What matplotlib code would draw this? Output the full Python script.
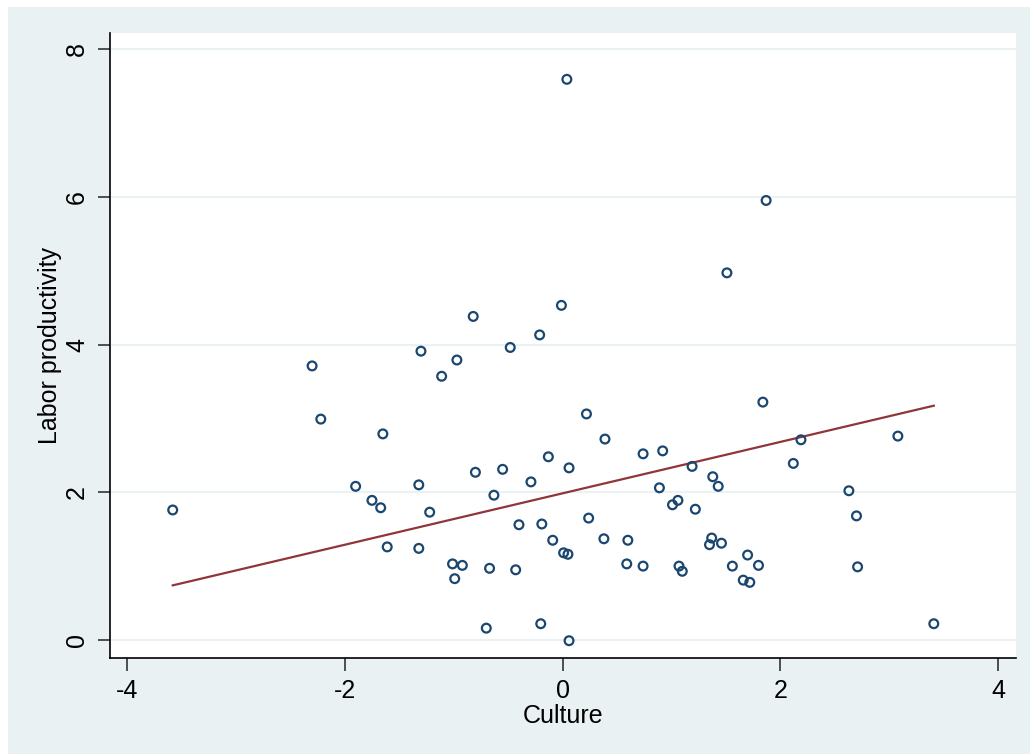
import numpy as np
import matplotlib
matplotlib.use("Agg")
import matplotlib.pyplot as plt
from matplotlib.patches import Rectangle

culture = [-3.58, -2.30, -2.22, -1.65, -1.90, -1.75, -1.67, -1.61, -1.30, -1.32,
           -1.22, -1.32, -1.11, -0.97, -0.82, -0.80, -1.01, -0.92, -0.99, -0.70,
           -0.67, -0.55, -0.63, -0.48, -0.43, -0.40, -0.29, -0.21, -0.19, -0.20,
           -0.13, -0.09, -0.01, 0.04, 0.01, 0.05, 0.06, 0.06, 0.22, 0.24,
           0.39, 0.38, 0.59, 0.60, 0.74, 0.74, 0.92, 0.89, 1.01, 1.06,
           1.07, 1.10, 1.19, 1.22, 1.38, 1.43, 1.35, 1.37, 1.46, 1.51,
           1.56, 1.66, 1.70, 1.72, 1.80, 1.84, 1.87, 2.12, 2.19, 2.63,
           2.70, 2.71, 3.08, 3.41]
productivity = [1.76, 3.71, 2.99, 2.79, 2.08, 1.89, 1.79, 1.26, 3.91, 2.10,
                1.73, 1.24, 3.57, 3.79, 4.38, 2.27, 1.03, 1.01, 0.83, 0.16,
                0.97, 2.31, 1.96, 3.96, 0.95, 1.56, 2.14, 4.13, 1.57, 0.22,
                2.48, 1.35, 4.53, 7.59, 1.18, 1.16, 2.33, -0.01, 3.06, 1.65,
                2.72, 1.37, 1.03, 1.35, 1.00, 2.52, 2.56, 2.06, 1.83, 1.89,
                1.00, 0.93, 2.35, 1.77, 2.21, 2.08, 1.29, 1.38, 1.31, 4.97,
                1.00, 0.81, 1.15, 0.78, 1.01, 3.22, 5.95, 2.39, 2.71, 2.02,
                1.68, 0.99, 2.76, 0.22]
# fitted line
fit_intercept = 1.985
fit_slope = 0.348
x_ticks = [-4, -2, 0, 2, 4]
y_ticks = [0, 2, 4, 6, 8]

plt.rcParams['font.family'] = ['Liberation Sans', 'DejaVu Sans']
plt.rcParams['axes.unicode_minus'] = False

fig = plt.figure(figsize=(10.3, 7.54), dpi=100, facecolor='white')
bg = Rectangle((8/1030, 0), 1 - 8/1030, 1 - 7/754, transform=fig.transFigure,
               facecolor='#eaf1f3', edgecolor='none', zorder=-10)
fig.patches.append(bg)

ax = fig.add_axes([110/1030, 1 - 658/754, (1016 - 110)/1030, (658 - 33)/754])
ax.set_facecolor('white')

x = np.array(culture)
y = np.array(productivity)
xs = np.array([x.min(), x.max()])
ax.plot(xs, fit_intercept + fit_slope * xs, color='#90353b', lw=1.6, zorder=2)

ax.scatter(x, y, s=40, facecolors='none', edgecolors='#1a476f', linewidths=1.6, zorder=3)

ax.set_xlim(-4.156, 4.165)
ax.set_ylim(-0.244, 8.217)
ax.set_xticks(x_ticks)
ax.set_yticks(y_ticks)
ax.set_xticklabels([str(t) for t in x_ticks])
ax.set_yticklabels([str(t) for t in y_ticks], rotation=90, va='center')

for yt in y_ticks:
    ax.axhline(yt, color='#eaf2f3', lw=1.5, zorder=0)

for side in ['top', 'right']:
    ax.spines[side].set_visible(False)
for side in ['left', 'bottom']:
    ax.spines[side].set_color('black')
    ax.spines[side].set_linewidth(1.2)

ax.tick_params(axis='both', length=9, width=1.2, color='#333333', labelsize=18, pad=6)

ax.set_xlabel('Culture', fontsize=18, labelpad=1)
ax.set_ylabel('Labor productivity', fontsize=18, labelpad=2)

fig.savefig('out.png', dpi=100, facecolor=fig.get_facecolor())
